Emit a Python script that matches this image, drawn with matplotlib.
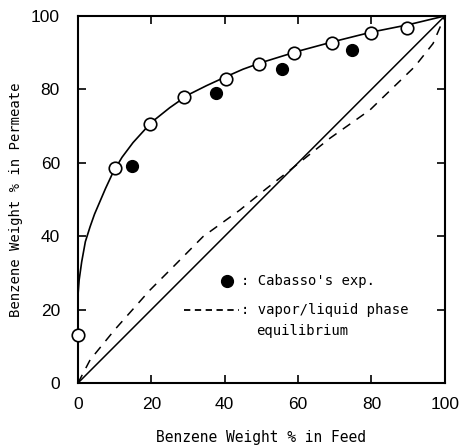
import matplotlib.pyplot as plt

# Pervaporation data: benzene weight % in feed vs in permeate
calc_feed = [0, 10, 19.5, 29, 40.3, 49.4, 59, 69.2, 80, 89.6]
calc_perm = [13, 58.6, 70.6, 77.8, 82.8, 86.8, 89.8, 92.7, 95.3, 96.6]

cabasso_feed = [14.6, 37.6, 55.7, 74.7]
cabasso_perm = [59.0, 79.1, 85.6, 90.7]

# smooth curve
curve_x = [0, 0.3, 1, 2, 3.3, 4.5, 6, 7.5, 9.6, 12, 15, 20, 25, 30, 35, 40, 45, 50,
           60, 70, 80, 90, 100]
curve_y = [24, 28, 33, 38.5, 42.6, 46, 49.5, 53, 57.5, 61.5, 65.5, 71, 75, 78.5, 81,
           83.3, 85.5, 87.3, 90.4, 93.1, 95.6, 97.6, 100]

# vapor/liquid equilibrium
vle_x = [0, 3.3, 10, 19.6, 26, 34.1, 44.1, 51.4, 57.8, 68.7, 79.6, 91.8, 96.8, 100]
vle_y = [0, 6.3, 14.5, 25.3, 31.7, 39.9, 47.1, 53, 58, 66.7, 74.4, 86.2, 92.5, 100]

ticks = [0, 20, 40, 60, 80, 100]

mono = 'DejaVu Sans Mono'
narrow = ['Liberation Sans Narrow', 'Liberation Sans', 'DejaVu Sans']

fig = plt.figure(figsize=(4.6, 4.46), dpi=100)
ax = fig.add_axes([0.1696, 0.1413, 0.7974, 0.8229])

ax.plot([0, 100], [0, 100], color='black', lw=1.1)
ax.plot(vle_x, vle_y, color='black', lw=1.1, dashes=(6, 5))
ax.plot(curve_x, curve_y, color='black', lw=1.2)
ax.plot(calc_feed, calc_perm, 'o', ms=9, mfc='white', mec='black', mew=1.2,
        clip_on=False, zorder=5)
ax.plot(cabasso_feed, cabasso_perm, 'o', ms=8.5, color='black', zorder=5)

# legend drawn as plain text
ax.plot([40.5], [27.8], 'o', ms=8.5, color='black')
ax.text(44.5, 27.8, ": Cabasso's exp.", family=mono, fontsize=10, va='center')
ax.plot([29, 44], [19.9, 19.9], color='black', lw=1.3, dashes=(3.5, 2.5))
ax.text(44.5, 19.9, ": vapor/liquid phase", family=mono, fontsize=10, va='center')
ax.text(48.5, 14.2, "equilibrium", family=mono, fontsize=10, va='center')

ax.set_xlim(0, 100)
ax.set_ylim(0, 100)
ax.set_xticks(ticks)
ax.set_yticks(ticks)
ax.tick_params(direction='in', length=6, width=1.2, top=True, right=True,
               labelsize=12.5)
ax.tick_params(axis='x', pad=10)
ax.tick_params(axis='y', pad=13)
for lab in ax.get_xticklabels() + ax.get_yticklabels():
    lab.set_family(narrow)
for s in ax.spines.values():
    s.set_linewidth(1.5)

ax.set_xlabel('Benzene Weight % in Feed', family=mono, fontsize=10.5, labelpad=13)
ax.set_ylabel('Benzene Weight % in Permeate', family=mono, fontsize=10, labelpad=6)

fig.savefig('out.png', dpi=100)
